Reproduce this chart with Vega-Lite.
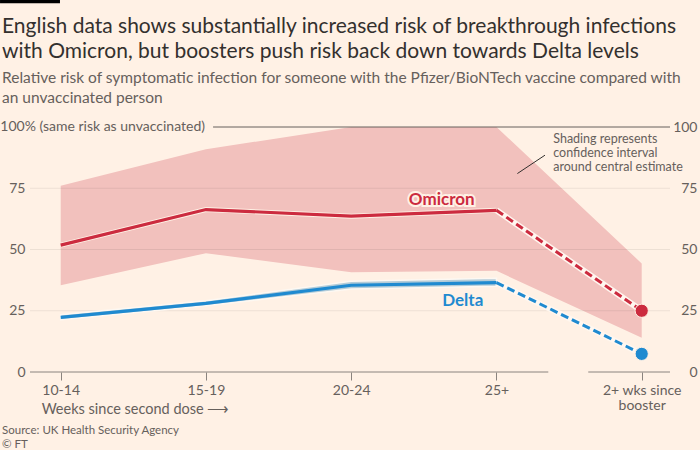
{
  "$schema": "https://vega.github.io/schema/vega-lite/v6.json",
  "width": 640,
  "height": 245,
  "autosize": {"type": "none"},
  "padding": {"left": 30, "top": 127, "right": 30, "bottom": 78},
  "background": "#fff1e5",
  "title": {
    "text": ["English data shows substantially increased risk of breakthrough infections", "with Omicron, but boosters push risk back down towards Delta levels"],
    "subtitle": ["Relative risk of symptomatic infection for someone with the Pfizer/BioNTech vaccine compared with", "an unvaccinated person"],
    "anchor": "start",
    "frame": "group",
    "orient": "top",
    "dx": -28,
    "dy": 107,
    "offset": 0,
    "font": "Lato",
    "fontSize": 21,
    "fontWeight": "normal",
    "lineHeight": 25,
    "color": "#33302e",
    "subtitleFont": "Lato",
    "subtitleFontSize": 15.5,
    "subtitleLineHeight": 20,
    "subtitleColor": "#66605c",
    "subtitlePadding": 9
  },
  "config": {
    "view": {"stroke": null},
    "font": "Lato",
    "axis": {"labelFont": "Lato", "labelFontSize": 14, "labelColor": "#66605c", "grid": false, "domain": false, "title": null},
    "text": {"font": "Lato"}
  },
  "datasets": {
    "risk": [
      {"series": "Omicron", "idx": 0, "val": 51.8, "lo": 35.4, "hi": 76.0},
      {"series": "Omicron", "idx": 1, "val": 66.3, "lo": 48.5, "hi": 90.9},
      {"series": "Omicron", "idx": 2, "val": 63.6, "lo": 40.7, "hi": 100},
      {"series": "Omicron", "idx": 3, "val": 66.0, "lo": 41.3, "hi": 100},
      {"series": "Omicron", "idx": 4, "val": 25.0, "lo": 14.0, "hi": 44.3},
      {"series": "Delta", "idx": 0, "val": 22.3, "lo": 21.3, "hi": 23.4},
      {"series": "Delta", "idx": 1, "val": 28.0, "lo": 27.0, "hi": 29.1},
      {"series": "Delta", "idx": 2, "val": 35.4, "lo": 33.9, "hi": 37.0},
      {"series": "Delta", "idx": 3, "val": 36.5, "lo": 35.0, "hi": 38.3},
      {"series": "Delta", "idx": 4, "val": 7.4, "lo": 6.5, "hi": 8.5}
    ]
  },
  "resolve": {"axis": {"y": "independent"}},
  "layer": [
    {
      "data": {"name": "risk"},
      "transform": [{"filter": "datum.series == 'Omicron'"}],
      "mark": {"type": "area", "color": "#f2c1bd"},
      "encoding": {
        "x": {"field": "idx", "type": "quantitative", "title": null,
          "scale": {"domain": [-0.2114, 4.1948], "nice": false, "zero": false},
          "axis": {"values": [0, 1, 2, 3, 4], "tickSize": 8, "tickColor": "#8a837e", "ticks": true, "labelPadding": 3, "labelLineHeight": 15,
            "labelExpr": "datum.value == 0 ? '10-14' : datum.value == 1 ? '15-19' : datum.value == 2 ? '20-24' : datum.value == 3 ? '25+' : ['2+ wks since', 'booster']"}},
        "y": {"field": "lo", "type": "quantitative", "title": null,
          "scale": {"domain": [0, 100], "nice": false, "zero": false},
          "axis": {"orient": "left", "values": [0, 25, 50, 75], "ticks": false, "labelPadding": 5}},
        "y2": {"field": "hi"}
      }
    },
    {
      "data": {"values": [{"g": 25}, {"g": 50}, {"g": 75}]},
      "mark": {"type": "rule", "color": "#000000", "opacity": 0.07, "strokeWidth": 1},
      "encoding": {
        "y": {"field": "g", "type": "quantitative", "title": null,
          "axis": {"orient": "right", "values": [0, 25, 50, 75, 100], "ticks": false, "labelAlign": "right", "labelPadding": 27}}
      }
    },
    {
      "data": {"values": [{"x1": 1.049, "x2": 4.1948, "y": 100, "c": "#66605c"}, {"x1": -0.2114, "x2": 3.357, "y": 0, "c": "#8a837e"}, {"x1": 3.632, "x2": 4.1948, "y": 0, "c": "#8a837e"}]},
      "mark": {"type": "rule", "strokeWidth": 1},
      "encoding": {
        "x": {"field": "x1", "type": "quantitative", "title": null},
        "x2": {"field": "x2"},
        "y": {"field": "y", "type": "quantitative", "axis": null},
        "color": {"field": "c", "type": "nominal", "scale": null}
      }
    },
    {
      "data": {"name": "risk"},
      "transform": [{"filter": "datum.series == 'Delta' && datum.idx <= 3"}],
      "mark": {"type": "area", "color": "#b4ccd8", "stroke": "#fdf8f2", "strokeWidth": 1.5},
      "encoding": {
        "x": {"field": "idx", "type": "quantitative", "title": null},
        "y": {"field": "lo", "type": "quantitative", "axis": null},
        "y2": {"field": "hi"}
      }
    },
    {
      "data": {"name": "risk"},
      "transform": [{"filter": "datum.idx >= 3"}],
      "mark": {"type": "line", "color": "#fff7f0", "strokeWidth": 6},
      "encoding": {
        "x": {"field": "idx", "type": "quantitative", "title": null},
        "y": {"field": "val", "type": "quantitative", "axis": null},
        "detail": {"field": "series"}
      }
    },
    {
      "data": {"name": "risk"},
      "transform": [{"filter": "datum.series == 'Omicron' && datum.idx <= 3"}],
      "mark": {"type": "line", "color": "#fff1e5", "strokeWidth": 5},
      "encoding": {
        "x": {"field": "idx", "type": "quantitative", "title": null},
        "y": {"field": "val", "type": "quantitative", "axis": null}
      }
    },
    {
      "data": {"name": "risk"},
      "transform": [{"filter": "datum.idx <= 3"}],
      "mark": {"type": "line", "strokeWidth": 3.2},
      "encoding": {
        "x": {"field": "idx", "type": "quantitative", "title": null},
        "y": {"field": "val", "type": "quantitative", "axis": null},
        "color": {"field": "series", "type": "nominal", "scale": {"domain": ["Omicron", "Delta"], "range": ["#cc2b3f", "#1f8ad0"]}, "legend": null}
      }
    },
    {
      "data": {"name": "risk"},
      "transform": [{"filter": "datum.idx >= 3"}],
      "mark": {"type": "line", "strokeWidth": 3, "strokeDash": [8, 4]},
      "encoding": {
        "x": {"field": "idx", "type": "quantitative", "title": null},
        "y": {"field": "val", "type": "quantitative", "axis": null},
        "color": {"field": "series", "type": "nominal", "legend": null}
      }
    },
    {
      "data": {"name": "risk"},
      "transform": [{"filter": "datum.idx == 4"}],
      "mark": {"type": "circle", "size": 175, "opacity": 1, "stroke": "#fff1e5", "strokeWidth": 1},
      "encoding": {
        "x": {"field": "idx", "type": "quantitative", "title": null},
        "y": {"field": "val", "type": "quantitative", "axis": null},
        "color": {"field": "series", "type": "nominal", "legend": null}
      }
    },
    {
      "data": {"values": [
        {"t": "Omicron", "x": 2.623, "y": 70.4, "c": "#cc2b3f"},
        {"t": "Delta", "x": 2.768, "y": 29.0, "c": "#1f8ad0"}
      ]},
      "mark": {"type": "text", "fontSize": 17, "fontWeight": "bold", "stroke": "#fff1e5", "strokeWidth": 4, "baseline": "middle", "align": "center"},
      "encoding": {
        "x": {"field": "x", "type": "quantitative", "title": null},
        "y": {"field": "y", "type": "quantitative", "axis": null},
        "text": {"field": "t"}
      }
    },
    {
      "data": {"values": [
        {"t": "Omicron", "x": 2.623, "y": 70.4, "c": "#cc2b3f"},
        {"t": "Delta", "x": 2.768, "y": 29.0, "c": "#1f8ad0"}
      ]},
      "mark": {"type": "text", "fontSize": 17, "fontWeight": "bold", "baseline": "middle", "align": "center"},
      "encoding": {
        "x": {"field": "x", "type": "quantitative", "title": null},
        "y": {"field": "y", "type": "quantitative", "axis": null},
        "text": {"field": "t"},
        "color": {"field": "c", "type": "nominal", "scale": null}
      }
    },
    {
      "data": {"values": [{"x": 3.144, "y": 81.0, "x2": 3.334, "y2": 88.5}]},
      "mark": {"type": "rule", "color": "#33302e", "strokeWidth": 1},
      "encoding": {
        "x": {"field": "x", "type": "quantitative", "title": null},
        "x2": {"field": "x2"},
        "y": {"field": "y", "type": "quantitative", "axis": null},
        "y2": {"field": "y2"}
      }
    },
    {
      "data": {"values": [
        {"t": ["Shading represents", "confidence interval", "around central estimate"], "x": 3.391, "y": 95.0, "s": 12.5},
        {"t": "Weeks since second dose \u27f6", "x": -0.131, "y": -15.6, "s": 14.5},
        {"t": "Source: UK Health Security Agency", "x": -0.404, "y": -23.9, "s": 11.5},
        {"t": "\u00a9 FT", "x": -0.404, "y": -29.7, "s": 11.5}
      ]},
      "mark": {"type": "text", "color": "#66605c", "lineHeight": 14, "baseline": "middle", "align": "left"},
      "encoding": {
        "x": {"field": "x", "type": "quantitative", "title": null},
        "y": {"field": "y", "type": "quantitative", "axis": null},
        "text": {"field": "t"},
        "size": {"field": "s", "type": "quantitative", "scale": null, "legend": null}
      }
    },
    {
      "data": {"values": [
        {"t": "100% (same risk as unvaccinated)", "x": 0.9935, "y": 100}
      ]},
      "mark": {"type": "text", "color": "#66605c", "fontSize": 14, "baseline": "middle", "align": "right"},
      "encoding": {
        "x": {"field": "x", "type": "quantitative", "title": null},
        "y": {"field": "y", "type": "quantitative", "axis": null},
        "text": {"field": "t"}
      }
    },
    {
      "data": {"values": [{"x": -0.4178, "x2": -0.005, "y": 151.3}]},
      "mark": {"type": "rule", "color": "#000000", "strokeWidth": 4},
      "encoding": {
        "x": {"field": "x", "type": "quantitative", "title": null},
        "x2": {"field": "x2"},
        "y": {"field": "y", "type": "quantitative", "axis": null}
      }
    }
  ]
}
